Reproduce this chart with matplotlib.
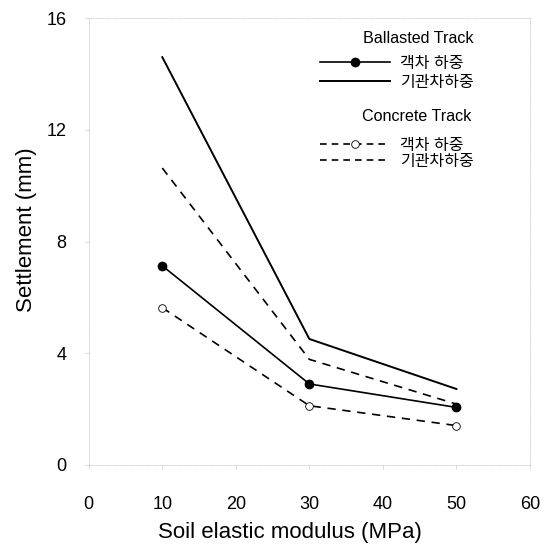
import matplotlib
matplotlib.use('Agg')
import matplotlib.pyplot as plt
from matplotlib.lines import Line2D

plt.rcParams['font.family'] = ['Liberation Sans', 'Noto Sans CJK KR', 'DejaVu Sans']

# 데이터
modulus = [10, 30, 50]
ballast_passenger = [7.13, 2.90, 2.06]
ballast_loco = [14.6, 4.51, 2.72]
concrete_passenger = [5.63, 2.12, 1.41]
concrete_loco = [10.63, 3.78, 2.18]

label_passenger = '객차 하중'
label_loco = '기관차하중'

fig = plt.figure(figsize=(5.48, 5.47), dpi=100)
ax = fig.add_axes([0.162, 0.150, 0.805, 0.817])

ax.plot(modulus, ballast_passenger, color='black', lw=1.2, marker='o', ms=6)
ax.plot(modulus, ballast_loco, color='black', lw=1.4)
ax.plot(modulus, concrete_passenger, color='black', lw=1.2, ls=(0, (5, 4)),
        marker='o', ms=5.5, mfc='white', mec='black', mew=0.6)
ax.plot(modulus, concrete_loco, color='black', lw=1.2, ls=(0, (5, 4)))

ax.set_xlim(0, 60)
ax.set_ylim(0, 16)
ax.set_xticks(range(0, 61, 10))
ax.set_yticks(range(0, 17, 4))
ax.tick_params(labelsize=13, color='#cccccc', length=3, width=0.5)
ax.tick_params(axis='x', pad=19)
ax.tick_params(axis='y', pad=13)
for s in ax.spines.values():
    s.set_color('#cccccc')
    s.set_linewidth(0.6)
    s.set_linestyle(':')
ax.set_xlabel('Soil elastic modulus (MPa)', fontsize=16)
ax.set_ylabel('Settlement (mm)', fontsize=16)
ax.xaxis.set_label_coords(0.456, -0.1275)
ax.yaxis.set_label_coords(-0.117, 0.526)

# 범례
ax.text(0.748, 0.955, 'Ballasted Track', transform=ax.transAxes,
        ha='center', va='center', fontsize=11.6)
ax.text(0.744, 0.779, 'Concrete Track', transform=ax.transAxes,
        ha='center', va='center', fontsize=11.6)

h1 = [Line2D([], [], color='black', lw=1.2, marker='o', ms=6),
      Line2D([], [], color='black', lw=1.4)]
h2 = [Line2D([], [], color='black', lw=1.2, ls=(0, (4, 3)), marker='o', ms=5.5,
             mfc='white', mec='black', mew=0.6),
      Line2D([], [], color='black', lw=1.2, ls=(0, (4, 3)))]
leg1 = ax.legend(h1, [label_passenger, label_loco],
                 loc='center left', bbox_to_anchor=(0.524, 0.877), frameon=False,
                 fontsize=11.5, handlelength=4.4, borderpad=0, borderaxespad=0,
                 handletextpad=0.63, numpoints=1, labelspacing=0.25)
ax.add_artist(leg1)
ax.legend(h2, [label_passenger, label_loco],
          loc='center left', bbox_to_anchor=(0.524, 0.697), frameon=False,
          fontsize=11.5, handlelength=4.4, borderpad=0, borderaxespad=0,
          handletextpad=0.63, numpoints=1, labelspacing=0.06)

plt.savefig('out.png', dpi=100)
